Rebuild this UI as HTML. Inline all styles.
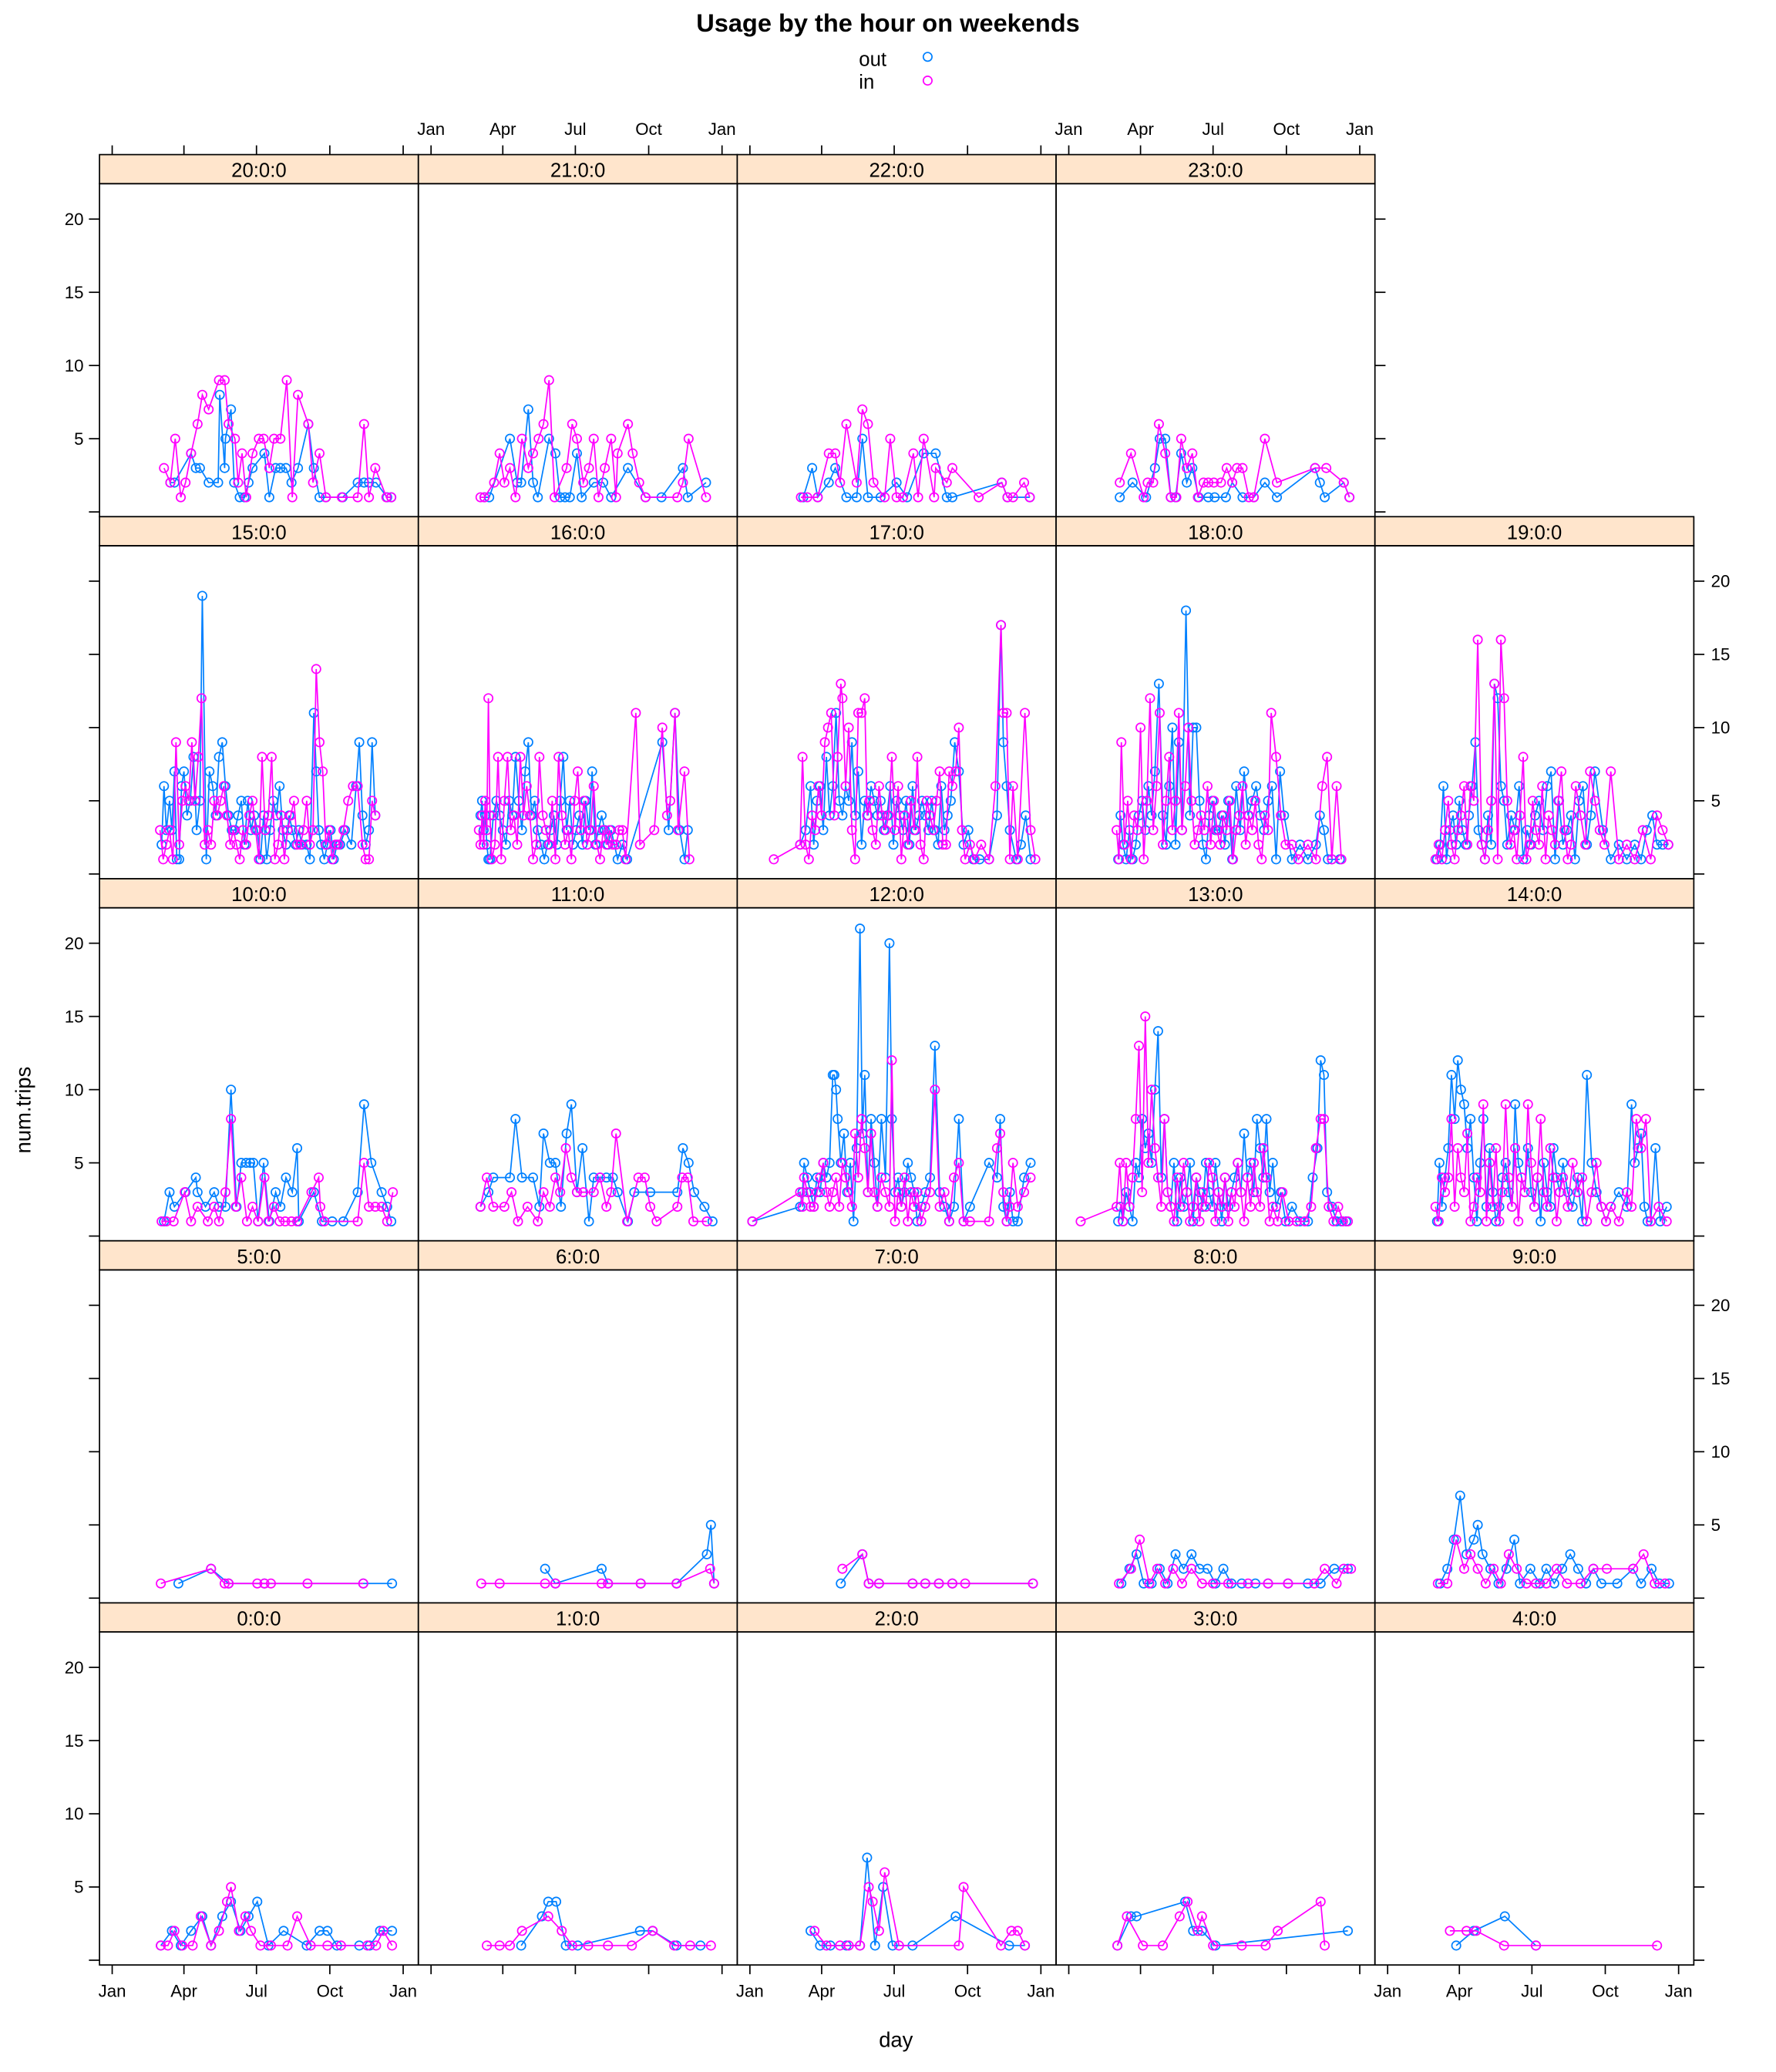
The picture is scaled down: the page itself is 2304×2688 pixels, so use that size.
<!DOCTYPE html>
<html><head><meta charset="utf-8"><title>Usage by the hour on weekends</title>
<style>html,body{margin:0;padding:0;background:#fff}svg{display:block}text{font-family:"Liberation Sans",Arial,sans-serif}</style>
</head><body>
<svg id="chart" xmlns="http://www.w3.org/2000/svg" width="2304" height="2688" viewBox="0 0 1344 1568">
<rect x="0" y="0" width="1344" height="1568" fill="#fff"/>
<text x="672" y="24" text-anchor="middle" font-size="19" font-weight="bold">Usage by the hour on weekends</text>
<g>
<text x="650" y="50" font-size="15">out</text>
<circle cx="702" cy="43" r="3.3" fill="none" stroke="#0080ff" stroke-width="1"/>
<text x="650" y="67" font-size="15">in</text>
<circle cx="702" cy="61" r="3.3" fill="none" stroke="#ff00ff" stroke-width="1"/>
</g>
<text x="678" y="1549" text-anchor="middle" font-size="16">day</text>
<text x="0" y="0" transform="translate(23,840) rotate(-90)" text-anchor="middle" font-size="16">num.trips</text>
<g id="panels"></g>
</svg>
<script>
const monthLabels = ["Jan","Apr","Jul","Oct","Jan"];
const monthDays = [0,90,181,273,365];
const yTicks = [0,5,10,15,20];
const yTickLabels = ["","5","10","15","20"];
const hoursLayout = [[20,21,22,23],[15,16,17,18,19],[10,11,12,13,14],[5,6,7,8,9],[0,1,2,3,4]];

const h0_out_day=[61,75,86,99,113,124,138,149,161,171,182,196,215,244,260,270,282,310,323,336,351];
const h0_out_trips=[1,2,1,2,3,1,3,4,2,3,4,1,2,1,2,2,1,1,1,2,2];
const h0_in_day=[61,70,78,88,101,111,124,134,144,149,159,167,174,186,199,220,232,249,270,287,320,331,340,351];
const h0_in_trips=[1,1,2,1,1,3,1,2,4,5,2,3,2,1,1,1,3,1,1,1,1,1,2,1];
const h1_out_day=[113,139,147,157,169,184,262,278,308,338];
const h1_out_trips=[1,3,4,4,1,1,2,2,1,1];
const h1_in_day=[70,86,99,114,147,164,177,197,222,252,278,305,325,351];
const h1_in_trips=[1,1,1,2,3,2,1,1,1,1,2,1,1,1];
const h2_out_day=[76,88,101,121,138,147,157,167,179,204,258,325,345];
const h2_out_trips=[2,1,1,1,1,7,1,5,1,1,3,1,1];
const h2_in_day=[81,96,113,124,138,149,154,162,169,187,262,268,315,328,336,345];
const h2_in_trips=[2,1,1,1,1,5,4,2,6,1,1,5,1,2,2,1];
const h3_out_day=[61,78,85,146,156,167,184,350];
const h3_out_trips=[1,3,3,4,2,2,1,2];
const h3_in_day=[61,73,93,118,139,149,162,167,181,217,247,262,316,321];
const h3_in_trips=[1,3,1,1,3,4,2,3,1,1,1,2,4,1];
const h4_out_day=[86,108,147,186];
const h4_out_trips=[1,2,3,1];
const h4_in_day=[78,99,111,146,186,338];
const h4_in_trips=[2,2,2,1,1,1];
const h5_out_day=[83,124,146,191,315,351];
const h5_out_trips=[1,2,1,1,1,1];
const h5_in_day=[61,124,141,146,182,191,199,245,315];
const h5_in_trips=[1,2,1,1,1,1,1,1,1];
const h6_out_day=[143,156,214,222,263,308,346,351,355];
const h6_out_trips=[2,1,2,1,1,1,3,5,1];
const h6_in_day=[63,86,143,156,214,222,263,308,350,355];
const h6_in_trips=[1,1,1,1,1,1,1,1,2,1];
const h7_out_day=[114,141,149,162,204,220,237,254,355];
const h7_out_trips=[1,3,1,1,1,1,1,1,1];
const h7_in_day=[116,141,149,162,204,220,237,254,270,355];
const h7_in_trips=[2,3,1,1,1,1,1,1,1,1];
const h8_out_day=[66,76,85,94,104,114,124,134,144,154,164,174,184,194,204,217,234,250,275,300,316,333,350];
const h8_out_trips=[1,2,3,1,1,2,1,3,2,3,2,2,1,2,1,1,1,1,1,1,1,2,2];
const h8_in_day=[63,78,89,101,111,121,131,142,154,167,181,200,225,250,275,308,321,336,345,354];
const h8_in_trips=[1,2,4,1,2,1,2,1,2,1,1,1,1,1,1,1,2,1,2,2];
const h9_out_day=[66,75,83,91,99,108,113,119,129,139,149,159,166,179,191,199,209,219,229,239,249,258,268,288,308,318,331,341,353];
const h9_out_trips=[1,2,4,7,3,4,5,3,2,1,2,4,1,2,1,2,1,2,3,2,1,2,1,1,2,1,2,1,1];
const h9_in_day=[63,75,86,96,104,113,123,133,142,152,162,174,186,199,212,225,242,258,275,308,321,335,348];
const h9_in_trips=[1,1,4,2,3,2,1,2,1,3,2,1,1,1,2,1,1,2,2,2,3,1,1];
const h10_out_day=[65,72,78,92,105,107,117,128,134,142,149,156,162,168,173,177,183,190,197,205,211,218,226,232,234,253,263,276,290,308,316,325,338,345,350];
const h10_out_trips=[1,3,2,3,4,3,2,3,2,2,10,2,5,5,5,5,1,5,1,3,2,4,3,6,1,3,1,1,1,3,9,5,3,2,1];
const h10_in_day=[62,68,77,91,99,107,120,128,134,142,149,155,162,169,176,183,191,196,203,210,217,225,232,250,259,261,266,308,316,322,330,338,345,352];
const h10_in_trips=[1,1,1,3,1,2,1,2,1,3,8,2,4,1,2,1,4,1,2,1,1,1,1,3,4,2,1,1,5,2,2,2,1,3];
const h11_out_day=[62,72,78,99,106,114,128,136,141,149,156,163,170,176,183,190,198,204,212,220,228,234,247,255,275,309,316,323,330,343,353];
const h11_out_trips=[2,3,4,4,8,4,4,2,7,5,5,2,7,9,3,6,1,4,4,4,4,3,1,3,3,3,6,5,3,2,1];
const h11_in_day=[62,70,78,92,101,109,121,134,141,149,156,162,169,176,183,191,204,212,220,226,232,246,260,268,275,283,309,315,322,329,346];
const h11_in_trips=[2,4,2,2,3,1,2,1,3,2,4,3,6,4,3,3,3,4,2,3,7,1,4,4,2,1,2,4,4,1,1];
const h12_out_day=[3,63,66,68,72,76,80,84,88,92,96,100,104,106,108,110,114,118,122,126,130,134,138,141,144,148,152,156,160,165,170,175,178,182,186,190,194,198,202,206,210,215,220,226,232,238,244,250,256,262,268,276,300,310,314,318,322,326,330,336,344,352];
const h12_out_trips=[1,2,3,5,4,3,2,4,3,5,4,5,11,11,10,8,5,7,3,5,1,6,21,7,11,3,8,5,2,8,4,20,8,3,4,2,3,5,4,3,1,2,3,4,13,3,2,1,2,8,1,2,5,4,8,2,1,3,1,1,4,5];
const h12_in_day=[3,63,66,68,72,76,80,84,88,92,96,100,104,108,112,116,120,124,128,132,136,140,144,148,152,156,160,165,170,175,178,182,186,190,194,198,202,206,210,215,220,226,232,238,244,250,256,262,268,276,300,310,314,318,322,326,330,336,344,352];
const h12_in_trips=[1,3,2,4,3,2,2,3,4,5,3,2,3,4,2,5,4,3,2,7,4,8,6,3,7,3,2,4,3,2,12,1,3,2,4,1,3,2,3,1,2,3,10,2,3,1,4,5,1,1,1,6,7,3,1,2,5,2,3,4];
const h13_out_day=[62,65,68,72,76,80,84,88,92,96,100,104,108,112,116,120,124,128,132,136,140,144,148,152,156,160,164,168,172,176,180,184,188,192,196,200,204,208,212,216,220,224,228,232,236,240,244,248,252,256,260,266,272,280,290,300,306,312,316,320,324,330,336,342,348];
const h13_out_trips=[1,2,1,3,2,1,5,4,8,6,7,5,10,14,4,8,3,2,5,1,4,2,3,5,1,4,3,2,5,3,2,5,3,1,4,2,3,4,5,3,7,4,5,3,8,6,4,8,3,5,2,3,1,2,1,1,4,6,12,11,3,2,1,1,1];
const h13_in_day=[15,60,64,68,72,76,80,84,88,92,96,100,104,108,112,116,120,124,128,132,136,140,144,148,152,156,160,164,168,172,176,180,184,188,192,196,200,204,208,212,216,220,224,228,232,236,240,244,248,252,256,262,268,276,286,296,304,310,316,320,326,332,338,344,350];
const h13_in_trips=[1,2,5,1,5,2,4,8,13,3,15,5,10,6,4,2,8,3,2,1,4,2,5,3,1,2,4,1,3,2,5,4,1,3,2,4,1,3,2,5,3,1,4,2,5,3,2,6,4,1,2,1,3,1,1,1,2,6,8,8,2,1,2,1,1];
const h14_out_day=[62,65,68,72,76,80,84,88,92,96,100,104,108,112,116,120,124,128,132,136,140,144,148,152,156,160,164,168,172,176,180,184,188,192,196,200,204,208,212,216,220,226,232,238,244,250,256,262,268,274,280,290,300,306,310,314,318,322,326,330,336,342,350];
const h14_out_trips=[1,5,2,4,6,11,8,12,10,9,6,8,4,1,5,8,2,6,3,1,2,4,5,3,2,9,5,4,3,6,3,2,4,1,5,3,2,6,4,3,5,3,2,4,1,11,5,3,2,1,2,3,2,9,5,6,7,2,1,1,6,1,2];
const h14_in_day=[60,64,68,72,76,80,84,88,92,96,100,104,108,112,116,120,124,128,132,136,140,144,148,152,156,160,164,168,172,176,180,184,188,192,196,200,204,208,212,216,220,226,232,238,244,250,256,262,268,274,280,290,300,306,312,318,324,330,340,350];
const h14_in_trips=[2,1,4,3,4,8,2,6,4,3,7,1,2,4,3,9,1,5,2,6,1,3,9,4,2,6,1,4,3,9,5,2,4,8,3,2,6,4,1,3,4,2,5,3,4,1,3,5,2,1,2,1,3,2,8,6,8,1,2,1];
const h15_out_day=[62,65,68,72,75,78,81,84,87,90,94,98,102,106,110,113,118,122,126,130,134,138,142,146,150,154,158,162,166,170,174,178,182,186,190,194,198,202,206,210,214,218,222,226,230,234,238,244,248,253,256,259,262,266,270,274,278,282,286,292,300,306,310,314,318,322,326,330];
const h15_out_trips=[2,6,3,5,3,7,1,1,6,7,4,5,8,3,5,19,1,7,6,4,8,9,6,4,3,3,4,5,2,5,3,4,3,1,4,1,3,5,4,6,3,2,4,3,2,3,2,2,1,11,7,3,2,1,2,3,1,2,2,3,2,6,9,4,2,3,9,4];
const h15_in_day=[60,64,68,72,76,80,84,88,92,96,100,104,108,112,116,120,124,128,132,136,140,144,148,152,156,160,164,168,172,176,180,184,188,192,196,200,204,208,212,216,220,224,228,232,236,240,244,248,252,256,260,264,268,272,276,280,284,290,296,302,308,314,318,322,326,330];
const h15_in_trips=[3,1,2,3,1,9,2,5,6,5,9,5,8,12,2,3,2,5,4,5,6,4,2,3,2,1,3,2,4,5,3,1,8,3,4,8,1,2,4,1,3,4,5,2,2,3,5,2,3,14,9,7,2,3,1,2,2,3,5,6,6,2,1,1,5,4];
const h16_out_day=[62,64,66,68,70,72,74,78,82,86,90,94,98,102,106,110,114,118,122,126,130,134,138,142,146,150,154,158,162,166,170,174,178,182,186,190,194,198,202,206,210,214,218,222,226,234,240,246,290,298,306,312,318,322];
const h16_out_trips=[4,5,3,4,2,1,1,4,5,4,3,2,5,4,8,5,3,7,9,4,5,3,2,1,2,3,4,2,5,8,3,5,2,3,4,2,5,3,7,2,3,4,3,2,3,1,2,1,9,3,11,3,1,3];
const h16_in_day=[60,62,64,66,68,70,72,74,76,80,84,88,92,96,100,104,108,112,116,120,124,128,132,136,140,144,148,152,156,160,164,168,172,176,180,184,188,192,196,200,204,208,212,216,220,224,228,232,236,240,244,257,262,280,290,296,300,306,310,318,324];
const h16_in_trips=[3,2,4,2,5,3,12,4,1,2,8,1,5,8,3,4,2,8,4,6,4,1,2,8,4,3,2,5,1,8,4,2,3,1,5,7,3,5,2,3,6,2,1,3,2,3,2,2,3,3,1,11,2,3,10,4,5,11,3,7,1];
const h17_out_day=[63,70,76,80,84,88,92,96,100,104,108,112,116,120,124,128,132,136,140,144,148,152,156,160,164,168,172,176,180,184,188,192,196,200,204,208,212,216,220,224,228,232,236,240,244,248,252,257,262,268,274,280,288,300,310,315,318,322,326,334,340,346,352];
const h17_out_trips=[2,3,6,2,5,6,3,8,4,6,11,5,4,6,5,9,4,7,2,5,4,6,5,4,5,3,4,6,2,5,4,3,5,2,6,3,4,5,4,3,5,3,2,6,3,4,5,9,7,2,3,1,1,1,4,17,9,6,3,1,2,4,1];
const h17_in_day=[30,63,66,70,74,78,82,86,90,94,98,102,106,110,114,116,120,124,128,132,136,140,144,147,150,154,158,162,166,170,174,178,182,186,190,194,198,202,206,210,214,218,222,226,230,234,238,242,246,250,254,258,262,266,270,276,282,290,300,308,315,318,322,326,330,336,345,352,358];
const h17_in_trips=[1,2,8,2,1,4,3,6,4,9,10,11,4,8,13,12,6,10,3,1,11,11,12,4,5,3,2,6,4,3,4,8,3,6,1,4,2,5,3,8,2,1,5,4,3,5,7,2,2,7,6,7,10,3,1,2,1,2,1,6,17,11,11,1,6,1,11,3,1];
const h18_out_day=[62,65,68,72,76,80,84,88,92,96,100,104,108,113,118,122,126,130,134,138,142,147,152,156,160,164,168,172,176,180,184,188,192,196,200,205,210,215,220,225,230,235,240,245,250,255,260,265,270,280,290,300,310,315,320,325,330,340];
const h18_out_trips=[1,4,2,1,3,1,2,4,5,3,6,4,7,13,4,2,6,10,2,9,3,18,4,10,10,5,2,1,4,5,3,3,4,2,5,1,6,3,7,4,5,6,4,3,5,6,1,7,4,1,2,1,2,4,3,1,1,1];
const h18_in_day=[60,63,66,70,74,78,82,86,90,94,98,102,106,110,114,118,122,126,130,134,138,142,146,150,154,158,162,166,170,174,178,182,186,190,194,198,202,206,210,214,218,222,226,230,234,238,242,246,250,254,260,266,272,280,288,300,310,318,324,330,336,342];
const h18_in_trips=[3,1,9,2,5,1,4,3,10,1,5,12,3,6,11,2,5,8,3,5,11,3,6,10,5,2,3,4,3,6,2,5,3,2,4,3,5,1,3,4,6,2,4,3,5,2,1,4,3,11,8,4,2,2,1,2,1,6,8,1,6,1];
const h19_out_day=[62,66,70,74,78,82,86,90,94,98,102,106,110,114,118,122,126,130,134,138,142,146,150,155,160,165,170,175,180,185,190,195,200,205,210,215,220,225,230,235,240,245,250,255,260,270,280,290,300,310,318,325,332,338,345,352];
const h19_out_trips=[1,2,6,1,3,4,2,5,3,2,4,6,9,3,2,1,4,2,13,12,6,5,2,4,3,6,1,3,2,4,5,3,6,7,1,5,2,3,4,1,5,6,2,4,7,3,1,2,1,2,1,3,4,2,2,2];
const h19_in_day=[60,64,68,72,76,80,84,88,92,96,100,104,108,113,118,122,126,130,134,138,142,146,150,154,158,162,166,170,174,178,182,186,190,194,198,202,206,210,214,218,222,226,230,236,242,248,254,260,266,272,280,290,300,310,320,330,338,345,352];
const h19_in_trips=[1,2,1,3,5,2,1,3,4,6,2,6,5,16,2,1,3,5,13,1,16,12,5,2,3,1,4,8,1,2,5,3,2,6,1,4,3,2,5,7,3,1,2,6,4,2,7,5,3,2,7,1,2,1,3,1,4,3,2];
const h20_out_day=[73,78,99,105,110,121,133,135,141,142,149,153,160,166,171,176,191,197,205,211,218,225,233,246,253,260,268,289,308,316,322,331,345,350];
const h20_out_trips=[2,2,4,3,3,2,2,8,3,5,7,2,1,1,2,3,4,1,3,3,3,2,3,6,3,1,1,1,2,2,2,2,1,1];
const h20_in_day=[65,73,79,86,92,99,107,113,121,134,141,146,154,158,163,168,176,184,190,197,203,211,219,226,233,246,252,260,268,288,308,316,322,330,344,350];
const h20_in_trips=[3,2,5,1,2,4,6,8,7,9,9,6,5,2,4,1,4,5,5,3,5,5,9,1,8,6,2,4,1,1,1,6,1,3,1,1];
const h21_out_day=[67,73,99,108,113,122,128,134,148,156,162,168,174,183,189,204,216,226,247,269,289,316,322,345];
const h21_out_trips=[1,1,5,2,2,7,2,1,5,4,1,1,1,4,1,2,2,1,3,1,1,3,1,2];
const h21_in_day=[62,67,79,86,92,99,106,114,122,128,135,141,148,155,170,177,183,191,198,204,210,218,226,232,234,247,253,261,269,309,316,323,345];
const h21_in_trips=[1,1,2,4,2,3,1,5,3,4,5,6,9,1,3,6,5,2,3,5,1,3,5,1,4,6,4,2,1,1,2,5,1];
const h22_out_day=[67,78,85,99,107,121,134,141,148,164,184,197,218,233,247,254,316,323,351];
const h22_out_trips=[1,3,1,2,3,1,1,5,1,1,2,1,4,4,1,1,2,1,1];
const h22_in_day=[64,72,85,99,107,113,121,134,141,148,155,169,176,184,192,205,211,218,231,233,247,254,287,316,323,330,344,351];
const h22_in_trips=[1,1,1,4,4,2,6,2,7,6,2,1,5,1,1,4,1,5,1,3,2,3,1,2,1,1,2,1];
const h23_out_day=[64,80,97,108,114,121,128,134,141,148,155,163,175,183,197,205,218,232,246,261,309,315,321,345,352];
const h23_out_trips=[1,2,1,3,5,5,1,1,4,2,3,1,1,1,1,2,1,1,2,1,3,2,1,2,1];
const h23_in_day=[64,78,94,99,106,113,121,128,135,141,148,155,162,169,175,182,191,198,205,211,218,226,232,246,261,309,323,345,352];
const h23_in_trips=[2,4,1,2,2,6,4,1,1,5,3,4,1,2,2,2,2,3,2,3,3,1,1,5,2,3,3,2,1];

const seriesByHour = {
 0:[h0_out_day,h0_out_trips,h0_in_day,h0_in_trips],1:[h1_out_day,h1_out_trips,h1_in_day,h1_in_trips],
 2:[h2_out_day,h2_out_trips,h2_in_day,h2_in_trips],3:[h3_out_day,h3_out_trips,h3_in_day,h3_in_trips],
 4:[h4_out_day,h4_out_trips,h4_in_day,h4_in_trips],5:[h5_out_day,h5_out_trips,h5_in_day,h5_in_trips],
 6:[h6_out_day,h6_out_trips,h6_in_day,h6_in_trips],7:[h7_out_day,h7_out_trips,h7_in_day,h7_in_trips],
 8:[h8_out_day,h8_out_trips,h8_in_day,h8_in_trips],9:[h9_out_day,h9_out_trips,h9_in_day,h9_in_trips],
 10:[h10_out_day,h10_out_trips,h10_in_day,h10_in_trips],11:[h11_out_day,h11_out_trips,h11_in_day,h11_in_trips],
 12:[h12_out_day,h12_out_trips,h12_in_day,h12_in_trips],13:[h13_out_day,h13_out_trips,h13_in_day,h13_in_trips],
 14:[h14_out_day,h14_out_trips,h14_in_day,h14_in_trips],15:[h15_out_day,h15_out_trips,h15_in_day,h15_in_trips],
 16:[h16_out_day,h16_out_trips,h16_in_day,h16_in_trips],17:[h17_out_day,h17_out_trips,h17_in_day,h17_in_trips],
 18:[h18_out_day,h18_out_trips,h18_in_day,h18_in_trips],19:[h19_out_day,h19_out_trips,h19_in_day,h19_in_trips],
 20:[h20_out_day,h20_out_trips,h20_in_day,h20_in_trips],21:[h21_out_day,h21_out_trips,h21_in_day,h21_in_trips],
 22:[h22_out_day,h22_out_trips,h22_in_day,h22_in_trips],23:[h23_out_day,h23_out_trips,h23_in_day,h23_in_trips]
};

const NS="http://www.w3.org/2000/svg";
const root=document.getElementById('panels');
const COL0=75.3, COLW=241.3, ROW0=117, ROWH=274, STRIPH=22;
const OUTC="#0080ff", INC="#ff00ff";
function colLeft(c){return COL0+c*COLW;}
function xScale(day,c){return colLeft(c)+9.6+day*0.6033;}
function yScale(v,r){return ROW0+ROWH*(r+1)-3.6-v*11.08;}
function mk(tag,attrs,parent){const e=document.createElementNS(NS,tag);for(const k in attrs)e.setAttribute(k,attrs[k]);(parent||root).appendChild(e);return e;}

hoursLayout.forEach((row,r)=>{
  row.forEach((h,c)=>{
    const L=colLeft(c), T=ROW0+r*ROWH;
    const g=mk('g',{});
    
    
    const strip=mk('rect',{x:L,y:T,width:COLW,height:STRIPH,fill:'#ffe5cc',stroke:'#000','stroke-width':1},g);
    
    
    const st=mk('text',{x:L+COLW/2,y:T+17,'text-anchor':'middle','font-size':15},g);
    st.textContent=h+':0:0';
    
    
    const pr=mk('rect',{x:L,y:T+STRIPH,width:COLW,height:ROWH-STRIPH,fill:'none',stroke:'#000','stroke-width':1},g);
    
    
    const s=seriesByHour[h];
    [[s[0],s[1],OUTC,'out'],[s[2],s[3],INC,'in']].forEach(([days,vals,col,nm])=>{
      const idx=days.map((d,i)=>i).sort((a,b)=>days[a]-days[b]);
      const pts=idx.map(i=>xScale(days[i],c).toFixed(1)+','+yScale(vals[i],r).toFixed(1)).join(' ');
      const pl=mk('polyline',{points:pts,fill:'none',stroke:col,'stroke-width':1},g);
      
      
      idx.forEach(i=>{
        const ci=mk('circle',{cx:xScale(days[i],c).toFixed(1),cy:yScale(vals[i],r).toFixed(1),r:3.3,fill:'none',stroke:col,'stroke-width':1},g);
        
        
      });
    });
  });
});

// axes
const ax=mk('g',{stroke:'#000','stroke-width':1});


function tick(x1,y1,x2,y2){const l=mk('line',{x1:x1,y1:y1,x2:x2,y2:y2},ax);}
function label(x,y,txt,anchor,name){const t=mk('text',{x:x,y:y,'text-anchor':anchor,'font-size':13,stroke:'none',fill:'#000'},ax);t.textContent=txt;}
// top axis over row 0 (cols 0..3)
for(let c=0;c<4;c++){
  monthDays.forEach((d,i)=>{
    const x=xScale(d,c); tick(x,ROW0-7,x,ROW0);
    if(c%2===1) label(x,ROW0-15,monthLabels[i],'middle','top-x-tick-label');
  });
}
// bottom axis
const bottomY=ROW0+5*ROWH;
for(let c=0;c<5;c++){
  monthDays.forEach((d,i)=>{
    const x=xScale(d,c); tick(x,bottomY,x,bottomY+7);
    if(c%2===0) label(x,bottomY+24,monthLabels[i],'middle','bottom-x-tick-label');
  });
}
// left and right y axes
for(let r=0;r<5;r++){
  const rightX = r===0 ? colLeft(4) : colLeft(5);
  yTicks.forEach((v,i)=>{
    const y=yScale(v,r);
    tick(COL0-8,y,COL0,y);
    tick(rightX,y,rightX+8,y);
    if(r%2===0 && yTickLabels[i]) label(COL0-12,y+4.5,yTickLabels[i],'end','left-y-tick-label');
    if(r%2===1 && yTickLabels[i]) label(rightX+13,y+4.5,yTickLabels[i],'start','right-y-tick-label');
  });
}
</script>
</body></html>
